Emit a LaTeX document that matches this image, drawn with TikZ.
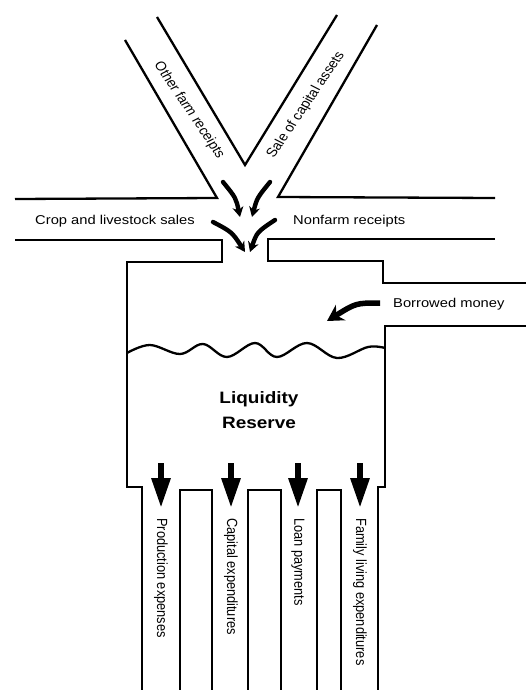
\documentclass[tikz,border=0pt]{standalone}
\usepackage{fontspec}
\setmainfont{Liberation Sans}
\usetikzlibrary{arrows.meta}
\tikzset{
  wall/.style={line width=2.3pt, line join=miter, line cap=butt},
  lbl/.style={font=\fontsize{12.8}{14}\selectfont, xscale=1.15, inner sep=0pt},
  flowarrow/.style={line width=4.4pt, line cap=round, -{Stealth[length=10pt,width=11pt]}},
  outarrow/.style={line width=6pt, -{Triangle[length=30pt,width=18pt]}},
}
\begin{document}
\begin{tikzpicture}[x=1pt,y=-1pt]
\useasboundingbox (0,0) rectangle (526,690);
% V channels
\draw[wall] (15,199) -- (217,198) -- (125,40);
\draw[wall] (157,17) -- (245,165) -- (337,15);
\draw[wall] (377,25) -- (278,197) -- (495,198);
% horizontal channels and tank
\draw[wall] (15,240) -- (222,240) -- (222,262) -- (127,262) -- (127,487) -- (142,487) -- (142,690);
\draw[wall] (495,239) -- (268,239) -- (268,261) -- (383,261) -- (383,283) -- (526,283);
\draw[wall] (526,326) -- (385,326) -- (385,487) -- (378,487) -- (378,690);
% outlet bars
\draw[wall] (180,690) -- (180,490) -- (212,490) -- (212,690);
\draw[wall] (248,690) -- (248,490) -- (281,490) -- (281,690);
\draw[wall] (317,690) -- (317,490) -- (341,490) -- (341,690);
% water surface
\draw[line width=2.3pt] plot[smooth, tension=0.6] coordinates {(127,353) (150,345) (180,354) (203,344) (227,357) (255,343) (277,357) (307,343) (337,358) (368,347) (385,348)};
% inflow arrows
\draw[flowarrow] (223,182) .. controls (236,198) .. (240,217);
\draw[flowarrow] (270,182) .. controls (257,198) .. (252,217);
\draw[flowarrow] (213,222) .. controls (232,232) .. (245,252);
\draw[flowarrow] (275,220) .. controls (257,232) .. (250,252);
\draw[line width=5.5pt, -{Stealth[length=16pt,width=18pt]}] (380,303) .. controls (356,303) .. (327,321);
% outflow arrows
\draw[outarrow] (161,463) -- (161,508);
\draw[outarrow] (231,463) -- (231,508);
\draw[outarrow] (298,463) -- (298,508);
\draw[outarrow] (360,463) -- (360,508);
% labels
\node[lbl, rotate=-59.5] (lblOther) at (189,110) {Other farm receipts};
\node[lbl, rotate=59.5] (lblSale) at (306,105) {Sale of capital assets};
\node[lbl, anchor=west] (lblCrop) at (35,221) {Crop and livestock sales};
\node[lbl, anchor=west] (lblNonfarm) at (293,221) {Nonfarm receipts};
\node[lbl, anchor=west] (lblBorrow) at (393,304) {Borrowed money};
\node[font=\fontsize{16.5}{25}\selectfont\bfseries, xscale=1.15, align=center, inner sep=0pt] (lblLiq) at (259,410) {Liquidity\\Reserve};
\node[lbl, rotate=-90, anchor=west] (lblProd) at (161,518) {Production expenses};
\node[lbl, rotate=-90, anchor=west] (lblCap) at (231,518) {Capital expenditures};
\node[lbl, rotate=-90, anchor=west] (lblLoan) at (298,518) {Loan payments};
\node[lbl, rotate=-90, anchor=west] (lblFam) at (360,518) {Family living expenditures};
\end{tikzpicture}
\end{document}
